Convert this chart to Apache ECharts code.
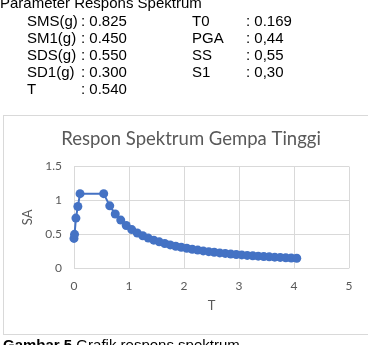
<!DOCTYPE html>
<html>
<head>
<meta charset="utf-8">
<script src="https://cdn.jsdelivr.net/npm/echarts@6/dist/echarts.min.js"></script>
<style>
    html, body {margin: 0; padding: 0; background: #fff; overflow: hidden;}
    body {width: 368px; height: 345px; position: relative; font-family: "Liberation Sans", Arial, sans-serif; color: #000;}
    .t {position: absolute; font-size: 15px; line-height: 17px; white-space: nowrap;}
    #box {position: absolute; left: 3px; top: 115px; width: 372px; height: 218px; border: 1px solid #d9d9d9;}
    #chart {position: absolute; left: 0; top: 0; width: 368px; height: 345px;}
</style>
</head>
<body>
<div id="box"></div>
<div id="chart"></div>
<div id="header"></div>
<div class="t" style="left:3px; top:336px;"><b>Gambar 5</b> Grafik respons spektrum</div>
<script>
// parameter table (left column / right column)
const paramsLeft = [['SMS(g)', '0.825'], ['SM1(g)', '0.450'], ['SDS(g)', '0.550'], ['SD1(g)', '0.300'], ['T', '0.540']];
const paramsRight = [['T0', '0.169'], ['PGA', '0,44'], ['SS', '0,55'], ['S1', '0,30']];

// response spectrum points
const periodT = [0, 0.01, 0.035, 0.07, 0.11, 0.54,
    0.65, 0.75, 0.85, 0.95, 1.05, 1.15, 1.25, 1.35, 1.45, 1.55, 1.65, 1.75, 1.85, 1.95,
    2.05, 2.15, 2.25, 2.35, 2.45, 2.55, 2.65, 2.75, 2.85, 2.95, 3.05, 3.15, 3.25, 3.35,
    3.45, 3.55, 3.65, 3.75, 3.85, 3.95, 4.05];
const spectrumSA = [0.44, 0.50, 0.74, 0.91, 1.10, 1.10,
    0.92, 0.80, 0.71, 0.63, 0.57, 0.52, 0.48, 0.445, 0.415, 0.39, 0.365, 0.345, 0.325, 0.31,
    0.295, 0.28, 0.268, 0.256, 0.245, 0.236, 0.227, 0.219, 0.211, 0.204, 0.197, 0.19, 0.185, 0.179,
    0.174, 0.169, 0.164, 0.16, 0.156, 0.152, 0.148];

const header = document.querySelector('#header');
function addText(txt, left, top) {
    const el = document.createElement('div');
    el.className = 't';
    el.style.left = left + 'px';
    el.style.top = top + 'px';
    el.textContent = txt;
    header.appendChild(el);
}
addText('Parameter Respons Spektrum', 0, -6);
paramsLeft.forEach(([k, v], i) => {
    const y = 12 + i * 17;
    addText(k, 27, y);
    addText(': ' + v, 81, y);
});
paramsRight.forEach(([k, v], i) => {
    const y = 12 + i * 17;
    addText(k, 192, y);
    addText(': ' + v, 246, y);
});

const chart = echarts.init(document.querySelector('#chart'), null, {renderer: 'canvas'});
const axisText = {color: '#595959', fontSize: 12, fontFamily: 'Lato, "Liberation Sans", sans-serif'};
chart.setOption({
    animation: false,
    title: {
        text: 'Respon Spektrum Gempa Tinggi',
        left: 186,
        top: 125,
        textAlign: 'center',
        textStyle: {color: '#595959', fontSize: 18.5, fontWeight: 'normal', fontFamily: 'Lato, sans-serif'},
    },
    grid: {left: 74, right: 19, top: 166.5, bottom: 76.7, containLabel: false},
    xAxis: {
        type: 'value',
        min: 0,
        max: 5,
        interval: 1,
        name: 'T',
        nameLocation: 'middle',
        nameGap: 31,
        nameTextStyle: {...axisText, fontSize: 13},
        axisLine: {show: false},
        axisTick: {show: false},
        axisLabel: {...axisText, margin: 12},
        splitLine: {show: true, lineStyle: {color: '#d9d9d9', width: 1}},
    },
    yAxis: {
        type: 'value',
        min: 0,
        max: 1.5,
        interval: 0.5,
        name: 'SA',
        nameLocation: 'middle',
        nameGap: 38,
        nameTextStyle: {...axisText, fontSize: 13},
        axisLine: {show: false},
        axisTick: {show: false},
        axisLabel: {...axisText, margin: 12},
        splitLine: {show: true, lineStyle: {color: '#d9d9d9', width: 1}},
    },
    series: [{
        type: 'line',
        data: periodT.map((t, i) => [t, spectrumSA[i]]),
        symbol: 'circle',
        symbolSize: 9,
        showSymbol: true,
        itemStyle: {color: '#4472C4'},
        lineStyle: {color: '#4472C4', width: 2},
    }],
});
</script>
</body>
</html>
